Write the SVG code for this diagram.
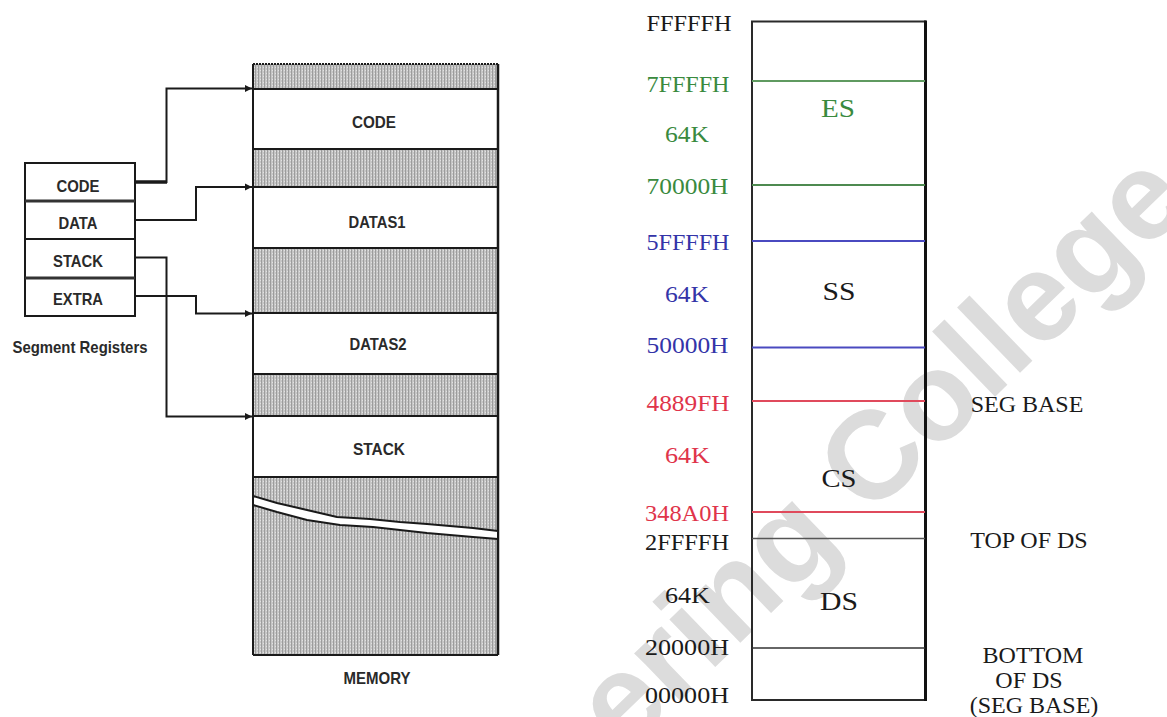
<svg xmlns="http://www.w3.org/2000/svg" width="1167" height="717" viewBox="0 0 1167 717">
  <style>
    .reg { font-family: "Liberation Sans", Arial, sans-serif; font-weight: bold; font-size: 17px; fill: #2a2a2a; text-anchor: middle; }
    .addr { font-family: "Liberation Serif", "Times New Roman", serif; font-size: 24px; text-anchor: middle; }
    .seg { font-family: "Liberation Serif", "Times New Roman", serif; font-size: 26px; text-anchor: middle; }
    .note { font-family: "Liberation Serif", "Times New Roman", serif; font-size: 24px; fill: #1a1a1a; text-anchor: middle; }
    .green { fill: #3a8a3e; }
    .blue { fill: #3434a8; }
    .red { fill: #e0344a; }
    .black { fill: #1a1a1a; }
    .wire { fill: none; stroke: #1a1a1a; stroke-width: 2; }
    .mem { stroke: #1a1a1a; stroke-width: 2; }
  </style>
  <defs>
    <pattern id="stipple" width="3" height="3" patternUnits="userSpaceOnUse">
      <rect width="3" height="3" fill="#c6c6c6"/>
      <rect width="1" height="3" fill="#9c9c9c"/>
      <rect x="2" y="1" width="1" height="1" fill="#e2e2e2"/>
    </pattern>
    <marker id="arrow" markerWidth="8" markerHeight="8" refX="7" refY="4" orient="auto" markerUnits="userSpaceOnUse">
      <path d="M0,0.5 L7,4 L0,7.5 Z" fill="#1a1a1a"/>
    </marker>
  </defs>

  <rect width="1167" height="717" fill="#ffffff"/>

  <!-- watermark -->
  <text x="624" y="755" transform="rotate(-44 624 755)" font-family="Liberation Sans, Arial, sans-serif" font-weight="bold" font-size="125" fill="#dcdcdc">ering College</text>

  <!-- segment register block -->
  <g id="segment-registers">
    <rect x="25" y="163" width="110" height="153" fill="#ffffff" stroke="#1a1a1a" stroke-width="2"/>
    <line x1="25" y1="201" x2="135" y2="201" stroke="#333" stroke-width="3"/>
    <line x1="25" y1="239" x2="135" y2="239" stroke="#1a1a1a" stroke-width="2"/>
    <line x1="25" y1="278" x2="135" y2="278" stroke="#333" stroke-width="3"/>
    <text class="reg" x="78" y="191.5" textLength="43" lengthAdjust="spacingAndGlyphs">CODE</text>
    <text class="reg" x="78" y="229" textLength="39" lengthAdjust="spacingAndGlyphs">DATA</text>
    <text class="reg" x="78" y="267" textLength="50" lengthAdjust="spacingAndGlyphs">STACK</text>
    <text class="reg" x="78" y="304.5" textLength="50" lengthAdjust="spacingAndGlyphs">EXTRA</text>
    <text class="reg" x="80" y="353" textLength="135" lengthAdjust="spacingAndGlyphs">Segment Registers</text>
  </g>

  <!-- memory column -->
  <g id="memory">
    <rect x="253" y="64" width="245" height="591" fill="url(#stipple)"/>
    <rect x="253" y="89" width="245" height="60" fill="#ffffff"/>
    <rect x="253" y="187" width="245" height="61" fill="#ffffff"/>
    <rect x="253" y="313" width="245" height="61" fill="#ffffff"/>
    <rect x="253" y="416" width="245" height="61" fill="#ffffff"/>
    <g class="mem">
      <line x1="253" y1="64" x2="498" y2="64" stroke-dasharray="2 1"/>
      <line x1="253" y1="89" x2="498" y2="89"/>
      <line x1="253" y1="149" x2="498" y2="149"/>
      <line x1="253" y1="187" x2="498" y2="187"/>
      <line x1="253" y1="248" x2="498" y2="248"/>
      <line x1="253" y1="313" x2="498" y2="313"/>
      <line x1="253" y1="374" x2="498" y2="374"/>
      <line x1="253" y1="416" x2="498" y2="416"/>
      <line x1="253" y1="477" x2="498" y2="477"/>
      <line x1="253" y1="655" x2="498" y2="655"/>
      <line x1="253" y1="64" x2="253" y2="655"/>
      <line x1="498" y1="64" x2="498" y2="655" stroke-width="2.5"/>
    </g>
    <!-- break in the address range -->
    <polygon points="253,496 277,503 307,510 337,517 370,519 400,522 427,524 473,528 498,531 498,539 473,537 427,533 373,527 340,525 307,520 277,512 253,505" fill="#ffffff" stroke="#1a1a1a" stroke-width="2" stroke-linejoin="round"/>
    <text class="reg" x="374" y="128" textLength="44" lengthAdjust="spacingAndGlyphs">CODE</text>
    <text class="reg" x="377" y="228" textLength="57" lengthAdjust="spacingAndGlyphs">DATAS1</text>
    <text class="reg" x="378" y="349.5" textLength="57" lengthAdjust="spacingAndGlyphs">DATAS2</text>
    <text class="reg" x="379" y="454.5" textLength="52" lengthAdjust="spacingAndGlyphs">STACK</text>
    <text class="reg" x="377" y="684" font-size="19" textLength="67" lengthAdjust="spacingAndGlyphs">MEMORY</text>
  </g>

  <!-- register to memory connectors -->
  <g id="connectors">
    <line x1="135" y1="182" x2="167" y2="182" stroke="#1a1a1a" stroke-width="3.5"/>
    <polyline class="wire" points="135,182 166.5,182 166.5,88.5 252,88.5" marker-end="url(#arrow)"/>
    <polyline class="wire" points="135,220 196,220 196,187 252,187" marker-end="url(#arrow)"/>
    <polyline class="wire" points="135,257.5 166.5,257.5 166.5,416.5 252,416.5" marker-end="url(#arrow)"/>
    <polyline class="wire" points="135,296 196,296 196,313.5 252,313.5" marker-end="url(#arrow)"/>
  </g>

  <!-- 1 MB address map -->
  <g id="address-map">
    <rect x="752" y="21.5" width="173" height="678.5" fill="none" stroke="#2a2a2a" stroke-width="2"/>
    <line x1="925.5" y1="20.5" x2="925.5" y2="701" stroke="#111" stroke-width="3"/>
    <line x1="752" y1="81" x2="925" y2="81" stroke="#5f9a60" stroke-width="2"/>
    <line x1="752" y1="185" x2="925" y2="185" stroke="#4e8a50" stroke-width="2"/>
    <line x1="752" y1="241" x2="925" y2="241" stroke="#4a4ac0" stroke-width="2"/>
    <line x1="752" y1="347.5" x2="925" y2="347.5" stroke="#4a4ac0" stroke-width="2"/>
    <line x1="752" y1="401" x2="925" y2="401" stroke="#e04a5c" stroke-width="2"/>
    <line x1="752" y1="512" x2="925" y2="512" stroke="#e04a5c" stroke-width="2"/>
    <line x1="752" y1="538.5" x2="925" y2="538.5" stroke="#555" stroke-width="1.5"/>
    <line x1="752" y1="648" x2="925" y2="648" stroke="#333" stroke-width="1.5"/>

    <text class="seg green" x="838" y="116.5" textLength="34" lengthAdjust="spacingAndGlyphs">ES</text>
    <text class="seg black" x="839" y="300" textLength="33" lengthAdjust="spacingAndGlyphs">SS</text>
    <text class="seg black" x="839" y="486.5" textLength="35" lengthAdjust="spacingAndGlyphs">CS</text>
    <text class="seg black" x="839" y="609.5" textLength="38" lengthAdjust="spacingAndGlyphs">DS</text>
  </g>

  <g id="address-labels">
    <text class="addr black" x="689" y="31" textLength="85" lengthAdjust="spacingAndGlyphs">FFFFFH</text>
    <text class="addr green" x="688" y="91.5" textLength="83" lengthAdjust="spacingAndGlyphs">7FFFFH</text>
    <text class="addr green" x="687" y="141.5" textLength="44" lengthAdjust="spacingAndGlyphs">64K</text>
    <text class="addr green" x="687.5" y="194" textLength="82" lengthAdjust="spacingAndGlyphs">70000H</text>
    <text class="addr blue" x="688" y="250" textLength="83" lengthAdjust="spacingAndGlyphs">5FFFFH</text>
    <text class="addr blue" x="687" y="301.5" textLength="44" lengthAdjust="spacingAndGlyphs">64K</text>
    <text class="addr blue" x="687.5" y="353" textLength="82" lengthAdjust="spacingAndGlyphs">50000H</text>
    <text class="addr red" x="688" y="411" textLength="83" lengthAdjust="spacingAndGlyphs">4889FH</text>
    <text class="addr red" x="687.5" y="463" textLength="45" lengthAdjust="spacingAndGlyphs">64K</text>
    <text class="addr red" x="687" y="521" textLength="84" lengthAdjust="spacingAndGlyphs">348A0H</text>
    <text class="addr black" x="687" y="550" textLength="84" lengthAdjust="spacingAndGlyphs">2FFFFH</text>
    <text class="addr black" x="687.5" y="603" textLength="45" lengthAdjust="spacingAndGlyphs">64K</text>
    <text class="addr black" x="687" y="655" textLength="84" lengthAdjust="spacingAndGlyphs">20000H</text>
    <text class="addr black" x="687" y="703" textLength="84" lengthAdjust="spacingAndGlyphs">00000H</text>
  </g>

  <g id="boundary-notes">
    <text class="note" x="1027" y="411.5">SEG BASE</text>
    <text class="note" x="1029" y="548">TOP OF DS</text>
    <text class="note" x="1033" y="663">BOTTOM</text>
    <text class="note" x="1029" y="688">OF DS</text>
    <text class="note" x="1034" y="713">(SEG BASE)</text>
  </g>
</svg>
